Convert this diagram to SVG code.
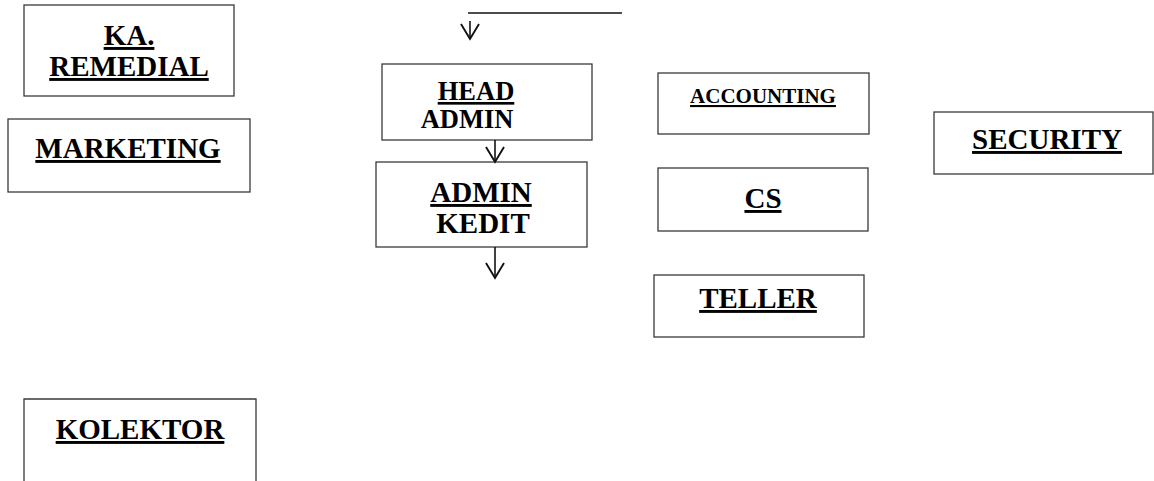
<svg xmlns="http://www.w3.org/2000/svg" width="1154" height="481" viewBox="0 0 1154 481">
  <style>
    .box { fill: #ffffff; stroke: #3a3a3a; stroke-width: 1.3; }
    .lbl { font-family: "Liberation Serif", "Times New Roman", serif; font-weight: bold; fill: #000000; text-anchor: middle; }
    .u { text-decoration: underline; }
    .wire { fill: none; stroke: #111111; stroke-width: 1.6; }
  </style>
  <defs>
    <marker id="vee" markerUnits="userSpaceOnUse" markerWidth="30" markerHeight="30" refX="0" refY="0" orient="auto" overflow="visible">
      <path d="M-15,-9 L0,0 L-15,9" fill="none" stroke="#111111" stroke-width="1.9"/>
    </marker>
  </defs>
  <rect width="1154" height="481" fill="#ffffff"/>

  <g id="ka-remedial">
    <rect class="box" x="24" y="5" width="210" height="91"/>
    <text class="lbl u" x="129" y="45" font-size="29">KA.</text>
    <text class="lbl u" x="129" y="76" font-size="29">REMEDIAL</text>
  </g>

  <g id="marketing">
    <rect class="box" x="8" y="119" width="242" height="73"/>
    <text class="lbl u" x="128" y="158" font-size="29">MARKETING</text>
  </g>

  <g id="head-admin">
    <rect class="box" x="382" y="64" width="210" height="76"/>
    <text class="lbl u" x="476" y="100" font-size="26.5">HEAD</text>
    <text class="lbl" x="467" y="128" font-size="26.5">ADMIN</text>
  </g>

  <g id="admin-kedit">
    <rect class="box" x="376" y="162" width="211" height="85"/>
    <text class="lbl u" x="481" y="202" font-size="29">ADMIN</text>
    <text class="lbl" x="483" y="233" font-size="29">KEDIT</text>
  </g>

  <g id="accounting">
    <rect class="box" x="658" y="73" width="211" height="61"/>
    <text class="lbl u" x="763" y="103" font-size="21">ACCOUNTING</text>
  </g>

  <g id="cs">
    <rect class="box" x="658" y="168" width="210" height="63"/>
    <text class="lbl u" x="763" y="208" font-size="29">CS</text>
  </g>

  <g id="teller">
    <rect class="box" x="654" y="275" width="210" height="62"/>
    <text class="lbl u" x="758" y="308" font-size="29">TELLER</text>
  </g>

  <g id="security">
    <rect class="box" x="934" y="112" width="219" height="62"/>
    <text class="lbl u" x="1047" y="149" font-size="29">SECURITY</text>
  </g>

  <g id="kolektor">
    <path class="box" d="M24,482 L24,399 L256,399 L256,482"/>
    <text class="lbl u" x="140" y="439" font-size="29">KOLEKTOR</text>
  </g>

  <g id="connectors">
    <line class="wire" x1="468" y1="13" x2="622" y2="13"/>
    <line class="wire" x1="470" y1="21" x2="470" y2="39" marker-end="url(#vee)"/>
    <line class="wire" x1="495" y1="140" x2="495" y2="162" marker-end="url(#vee)"/>
    <line class="wire" x1="495" y1="247" x2="495" y2="278" marker-end="url(#vee)"/>
  </g>
</svg>
